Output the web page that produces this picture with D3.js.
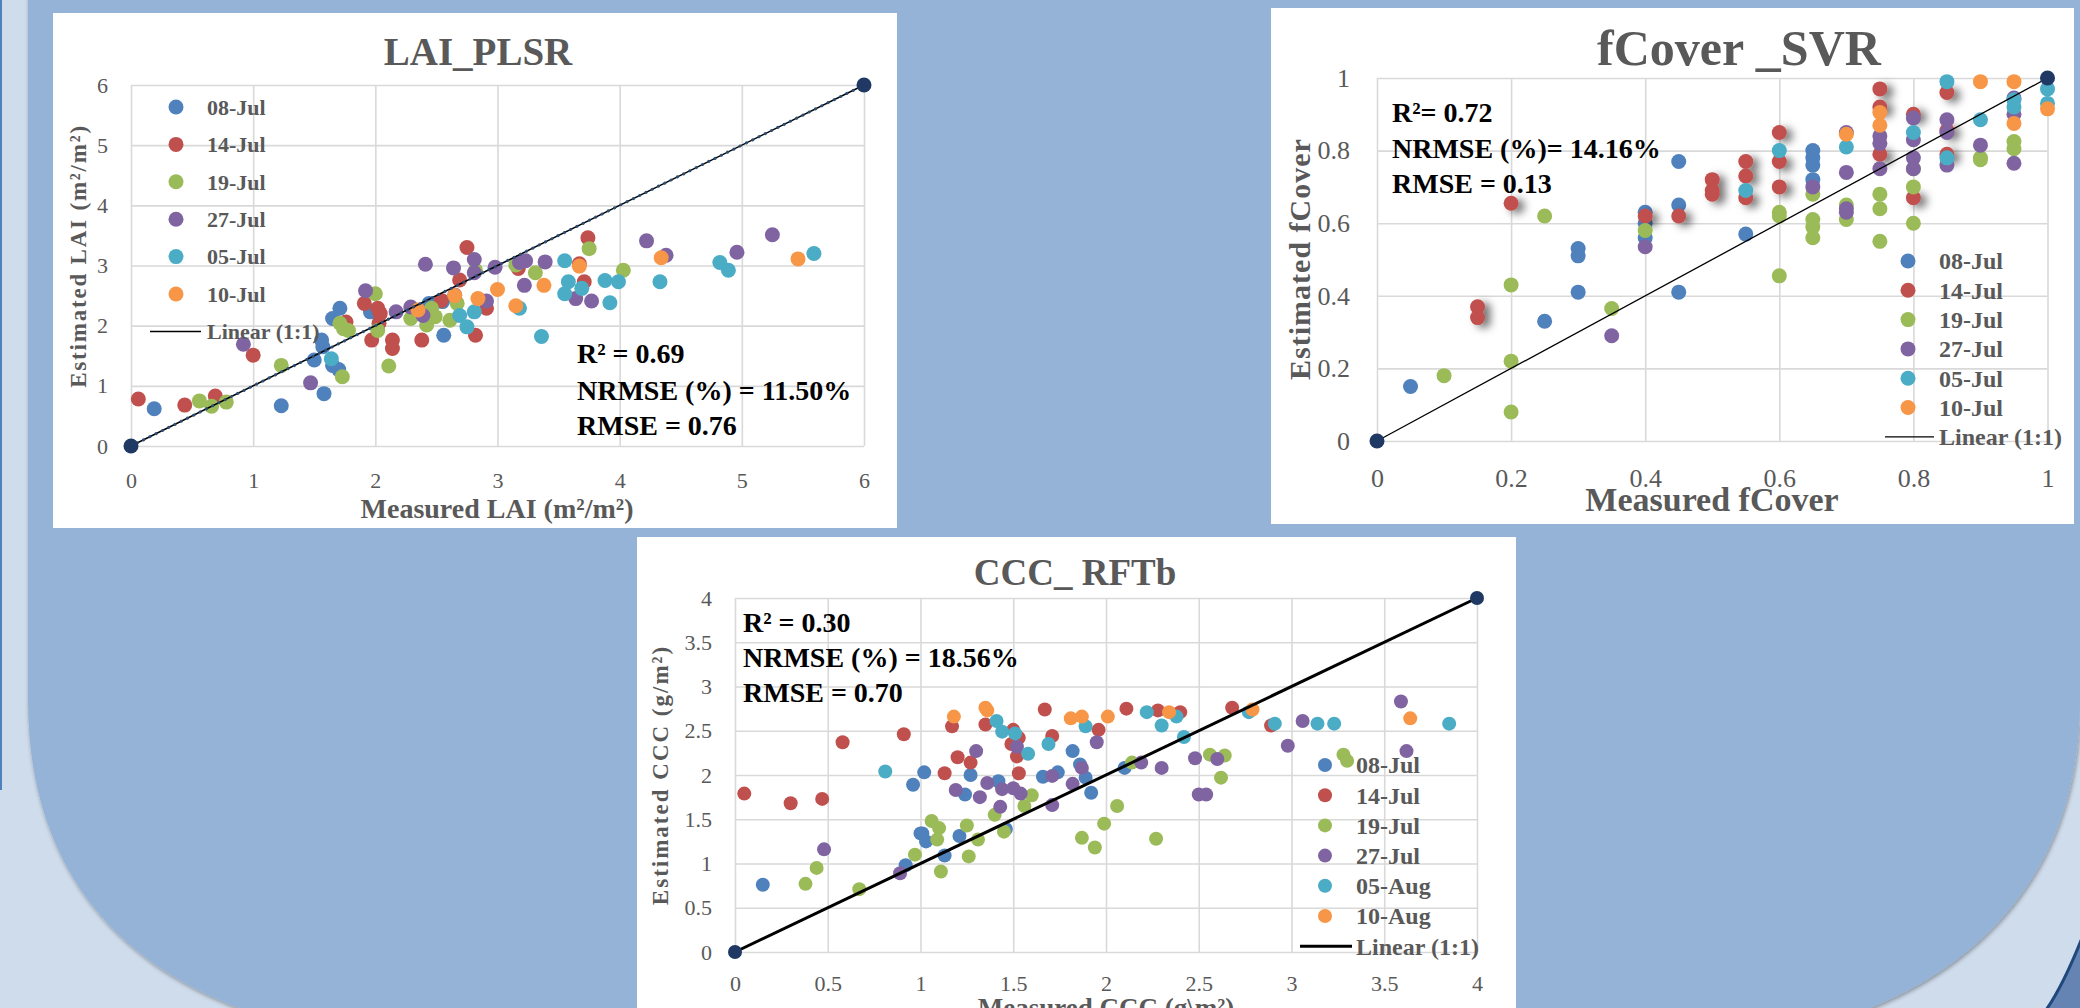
<!DOCTYPE html>
<html>
<head>
<meta charset="utf-8">
<script src="https://cdn.jsdelivr.net/npm/d3@7"></script>
<style>
  body { margin: 0; overflow: hidden; background: #95b3d7; }
  svg { display: block; }
  text { font-family: "Liberation Serif", "DejaVu Serif", serif; }
</style>
</head>
<body>
<div id="chart"></div>
<script>
// ---------- data ----------
const colors = ["#4f81bd", "#c0504d", "#9bbb59", "#8064a2", "#4bacc6", "#f79646"];

// LAI_PLSR  [measured, estimated]
const laiDates = ["08-Jul", "14-Jul", "19-Jul", "27-Jul", "05-Jul", "10-Jul"];
const lai08Jul = [[0.19,0.62],[1.23,0.67],[1.58,0.87],[1.50,1.43],[1.56,1.76],[1.57,1.65],[1.65,1.34],[1.70,1.27],[1.65,2.12],[1.71,2.29],[1.96,2.23],[2.56,1.84],[2.44,2.37],[2.55,2.40]];
const lai14Jul = [[0.06,0.78],[0.44,0.68],[0.69,0.83],[1.00,1.51],[1.91,2.37],[1.97,1.76],[2.02,2.29],[2.04,2.20],[2.03,2.04],[2.14,1.76],[2.14,1.62],[2.38,1.76],[2.54,2.42],[2.69,2.76],[2.75,3.30],[2.82,1.84],[2.91,2.29],[3.17,2.95],[3.67,3.03],[3.71,2.73],[3.74,3.46],[1.76,2.06]];
const lai19Jul = [[0.56,0.75],[0.66,0.66],[0.78,0.73],[1.23,1.34],[1.73,1.15],[1.71,2.04],[1.74,1.95],[1.78,1.92],[2.00,2.53],[2.02,1.92],[2.11,1.33],[2.29,2.12],[2.42,2.01],[2.46,2.29],[2.61,2.09],[2.67,2.37],[2.82,2.92],[3.15,3.01],[3.31,2.88],[3.75,3.28],[4.03,2.92],[2.49,2.15]];
const lai27Jul = [[0.92,1.69],[1.47,1.05],[1.92,2.58],[2.17,2.23],[2.29,2.31],[2.39,2.17],[2.41,3.02],[2.64,2.96],[2.65,2.51],[2.81,3.10],[2.81,2.88],[2.91,2.41],[2.98,2.97],[3.18,3.05],[3.23,3.08],[3.22,2.67],[3.39,3.06],[3.64,2.45],[3.77,2.41],[4.22,3.41],[4.38,3.17],[4.96,3.22],[5.25,3.51]];
const lai05Jul = [[1.64,1.45],[2.69,2.17],[2.75,1.98],[2.81,2.23],[3.18,2.29],[3.36,1.82],[3.55,3.08],[3.55,2.53],[3.58,2.73],[3.69,2.62],[3.88,2.75],[3.92,2.38],[3.99,2.73],[4.33,2.73],[4.82,3.05],[4.89,2.92],[5.59,3.20]];
const lai10Jul = [[2.35,2.26],[2.65,2.50],[2.84,2.45],[3.00,2.60],[3.15,2.33],[3.38,2.67],[3.67,2.99],[4.34,3.13],[5.46,3.11]];
const laiTicks = [0, 1, 2, 3, 4, 5, 6];
const laiStats = ["R² = 0.69", "NRMSE (%) = 11.50%", "RMSE = 0.76"];

// fCover_SVR
const fcDates = ["08-Jul", "14-Jul", "19-Jul", "27-Jul", "05-Jul", "10-Jul"];
const fc08Jul = [[0.05,0.15],[0.25,0.33],[0.30,0.53],[0.30,0.51],[0.30,0.41],[0.40,0.63],[0.40,0.60],[0.40,0.56],[0.45,0.77],[0.45,0.65],[0.45,0.41],[0.55,0.57],[0.65,0.80],[0.65,0.78],[0.65,0.76],[0.65,0.72]];
const fc14Jul = [[0.15,0.37],[0.15,0.34],[0.20,0.655],[0.40,0.62],[0.45,0.62],[0.50,0.72],[0.50,0.69],[0.50,0.68],[0.55,0.77],[0.55,0.73],[0.55,0.67],[0.60,0.85],[0.60,0.77],[0.60,0.70],[0.75,0.97],[0.75,0.92],[0.75,0.79],[0.80,0.90],[0.80,0.67],[0.85,0.96],[0.85,0.855],[0.85,0.79]];
const fc19Jul = [[0.10,0.18],[0.20,0.43],[0.20,0.22],[0.20,0.08],[0.25,0.62],[0.35,0.365],[0.40,0.58],[0.60,0.63],[0.60,0.62],[0.60,0.455],[0.65,0.68],[0.65,0.61],[0.65,0.59],[0.65,0.56],[0.70,0.65],[0.70,0.61],[0.75,0.68],[0.75,0.64],[0.75,0.55],[0.80,0.75],[0.80,0.70],[0.80,0.60],[0.90,0.78],[0.90,0.775],[0.95,0.825],[0.95,0.805]];
const fc27Jul = [[0.35,0.29],[0.40,0.535],[0.65,0.70],[0.70,0.74],[0.70,0.64],[0.70,0.63],[0.70,0.85],[0.75,0.84],[0.75,0.82],[0.75,0.75],[0.80,0.89],[0.80,0.83],[0.80,0.78],[0.80,0.75],[0.85,0.885],[0.85,0.85],[0.85,0.76],[0.90,0.815],[0.95,0.945],[0.95,0.90],[0.95,0.765]];
const fc05Jul = [[0.55,0.69],[0.60,0.80],[0.70,0.81],[0.80,0.85],[0.85,0.99],[0.85,0.78],[0.90,0.885],[0.95,0.94],[0.95,0.92],[1.00,0.97],[1.00,0.93]];
const fc10Jul = [[0.70,0.845],[0.75,0.905],[0.75,0.87],[0.90,0.99],[0.95,0.99],[0.95,0.875],[1.00,0.915]];
const fcTicks = [0, 0.2, 0.4, 0.6, 0.8, 1];
const fcStats = ["R²= 0.72", "NRMSE (%)= 14.16%", "RMSE = 0.13"];

// CCC_RFTb
const cccDates = ["08-Jul", "14-Jul", "19-Jul", "27-Jul", "05-Aug", "10-Aug"];
const ccc08Jul = [[0.15,0.76],[0.92,0.98],[0.96,1.89],[1.02,2.03],[1.00,1.34],[1.01,1.34],[1.03,1.25],[1.13,1.09],[1.21,1.31],[1.24,1.78],[1.27,2.00],[1.42,1.93],[1.46,1.39],[1.66,1.98],[1.74,2.03],[1.82,2.27],[1.86,2.12],[1.89,1.97],[1.92,1.80],[2.10,2.08]];
const ccc14Jul = [[0.05,1.79],[0.30,1.68],[0.47,1.73],[0.58,2.37],[0.91,2.46],[1.13,2.02],[1.17,2.55],[1.20,2.20],[1.27,2.14],[1.35,2.57],[1.50,2.51],[1.49,2.35],[1.52,2.21],[1.53,2.42],[1.53,2.02],[1.67,2.74],[1.71,2.44],[1.96,2.51],[2.11,2.75],[2.28,2.73],[2.40,2.71],[2.68,2.76],[2.89,2.56]];
const ccc19Jul = [[0.38,0.77],[0.44,0.95],[0.67,0.71],[0.97,1.10],[1.06,1.48],[1.10,1.40],[1.09,1.27],[1.11,0.91],[1.25,1.43],[1.26,1.08],[1.31,1.27],[1.40,1.55],[1.45,1.36],[1.56,1.65],[1.60,1.77],[1.87,1.29],[1.94,1.18],[1.99,1.45],[2.06,1.65],[2.14,2.14],[2.27,1.28],[2.56,2.23],[2.64,2.22],[2.62,1.97],[3.28,2.23],[3.30,2.16]];
const ccc27Jul = [[0.48,1.16],[0.89,0.89],[1.19,1.83],[1.30,2.27],[1.32,1.75],[1.36,1.91],[1.43,1.64],[1.44,1.84],[1.50,1.85],[1.54,1.79],[1.52,2.32],[1.71,1.99],[1.71,1.66],[1.82,1.90],[1.87,2.08],[1.95,2.37],[2.19,2.14],[2.30,2.08],[2.48,2.19],[2.50,1.78],[2.54,1.78],[2.60,2.18],[2.98,2.33],[3.06,2.61],[3.59,2.83],[3.62,2.27]];
const ccc05Aug = [[0.81,2.04],[1.41,2.61],[1.44,2.49],[1.51,2.47],[1.58,2.24],[1.69,2.35],[1.89,2.55],[2.22,2.71],[2.30,2.56],[2.38,2.66],[2.42,2.43],[2.77,2.71],[2.91,2.58],[3.14,2.58],[3.23,2.58],[3.85,2.58]];
const ccc10Aug = [[1.18,2.66],[1.35,2.76],[1.36,2.73],[1.81,2.64],[1.87,2.66],[2.01,2.66],[2.34,2.71],[2.79,2.74],[3.64,2.64]];
const cccTicks = [0, 0.5, 1, 1.5, 2, 2.5, 3, 3.5, 4];
const cccStats = ["R² = 0.30", "NRMSE (%) = 18.56%", "RMSE = 0.70"];

// ---------- page ----------
const W = 2080, H = 1008;
const grey = "#595959";
const svg = d3.select("#chart").append("svg").attr("width", W).attr("height", H);
const defs = svg.append("defs");
defs.append("filter").attr("id", "edge").attr("x", "-10%").attr("y", "-10%").attr("width", "120%").attr("height", "120%")
  .append("feDropShadow").attr("dx", 1).attr("dy", 2).attr("stdDeviation", 2)
  .attr("flood-color", "#000").attr("flood-opacity", 0.35);
defs.append("filter").attr("id", "blob").attr("x", "-100%").attr("y", "-100%").attr("width", "300%").attr("height", "300%")
  .append("feDropShadow").attr("dx", 6).attr("dy", 3).attr("stdDeviation", 4)
  .attr("flood-color", "#000").attr("flood-opacity", 0.55);

// background template shapes
svg.append("rect").attr("width", W).attr("height", H).attr("fill", "#cfdcec");
svg.append("rect").attr("x", 0).attr("y", 0).attr("width", 2).attr("height", 790).attr("fill", "#4f81bd");
svg.append("path")
  .attr("d", "M28,-20 L2100,-20 L2100,690 L2080,700 C2080,860 1990,960 1870,1008 L240,1008 C110,960 28,860 28,700 Z")
  .attr("fill", "#95b3d7").attr("filter", "url(#edge)");
svg.append("path")
  .attr("d", "M2082,938 C2070,968 2060,990 2046,1010 L2082,1010 Z")
  .attr("fill", "#6584b4").attr("stroke", "#1f497d").attr("stroke-width", 3);

function drawPanel(p) {
  const g = svg.append("g");
  g.append("rect").attr("x", p.box[0]).attr("y", p.box[1])
    .attr("width", p.box[2]).attr("height", p.box[3]).attr("fill", "#fff");

  const x = d3.scaleLinear().domain([0, p.max]).range([p.left, p.right]);
  const y = d3.scaleLinear().domain([0, p.max]).range([p.bottom, p.top]);
  const fmt = (d) => String(d);

  const xAxis = g.append("g").attr("transform", `translate(0,${p.bottom})`)
    .call(d3.axisBottom(x).tickValues(p.ticks).tickFormat(fmt)
      .tickSize(-(p.bottom - p.top)).tickPadding(p.xPad));
  const yAxis = g.append("g").attr("transform", `translate(${p.left},0)`)
    .call(d3.axisLeft(y).tickValues(p.ticks).tickFormat(fmt)
      .tickSize(-(p.right - p.left)).tickPadding(p.yPad));
  [xAxis, yAxis].forEach((a) => {
    a.select(".domain").remove();
    a.selectAll("line").attr("stroke", "#d9d9d9").attr("stroke-width", 1.6);
    a.selectAll("text").attr("fill", grey).attr("font-size", p.tickFs)
      .style("font-family", '"Liberation Serif", serif');
  });

  // series
  p.series.forEach((s, i) => {
    g.append("g").attr("fill", colors[i])
      .attr("filter", p.shadow && p.shadow.includes(i) ? "url(#blob)" : null)
      .selectAll("circle").data(s).join("circle")
      .attr("cx", (d) => x(d[0])).attr("cy", (d) => y(d[1])).attr("r", p.r);
  });

  // 1:1 line
  g.append("line").attr("x1", x(0)).attr("y1", y(0)).attr("x2", x(p.max)).attr("y2", y(p.max))
    .attr("stroke", "#000").attr("stroke-width", p.lineW);
  if (p.dotted) {
    g.append("line").attr("x1", x(0)).attr("y1", y(0)).attr("x2", x(p.max)).attr("y2", y(p.max))
      .attr("stroke", "#2c4d75").attr("stroke-width", 3).attr("stroke-linecap", "round")
      .attr("stroke-dasharray", "0.1,6.9");
  }
  g.selectAll(".endp").data([0, p.max]).join("circle")
    .attr("cx", (d) => x(d)).attr("cy", (d) => y(d)).attr("r", p.r).attr("fill", "#1f3864");

  // titles
  g.append("text").attr("x", p.title.x).attr("y", p.title.y).attr("text-anchor", "middle")
    .attr("font-size", p.title.fs).attr("font-weight", "bold").attr("fill", grey).text(p.title.text);
  g.append("text").attr("x", p.xTitle.x).attr("y", p.xTitle.y).attr("text-anchor", "middle")
    .attr("font-size", p.xTitle.fs).attr("font-weight", "bold").attr("fill", grey).text(p.xTitle.text);
  g.append("text").attr("transform", `translate(${p.yTitle.x},${p.yTitle.y}) rotate(-90)`)
    .attr("text-anchor", "middle").attr("dy", "0.35em")
    .attr("font-size", p.yTitle.fs).attr("font-weight", "bold").attr("fill", grey)
    .attr("letter-spacing", p.yTitle.ls).text(p.yTitle.text);

  // stats
  g.selectAll(".stat").data(p.stats.text).join("text")
    .attr("x", p.stats.x).attr("y", (d, i) => p.stats.y[i])
    .attr("font-size", p.stats.fs).attr("font-weight", "bold").attr("fill", "#000").text((d) => d);

  // legend
  const L = p.legend;
  const rows = g.selectAll(".leg").data(p.names).join("g")
    .attr("transform", (d, i) => `translate(0,${L.y0 + i * L.step})`);
  rows.append("circle").attr("cx", L.mx).attr("r", p.r).attr("fill", (d, i) => colors[i]);
  rows.append("text").attr("x", L.tx).attr("dy", "0.35em").attr("font-size", L.fs)
    .attr("font-weight", "bold").attr("fill", grey).text((d) => d);
  const ly = L.y0 + p.names.length * L.step;
  g.append("line").attr("x1", L.l1).attr("x2", L.l2).attr("y1", ly).attr("y2", ly)
    .attr("stroke", "#000").attr("stroke-width", p.lineW);
  g.append("text").attr("x", L.tx).attr("y", ly).attr("dy", "0.35em").attr("font-size", L.fs)
    .attr("font-weight", "bold").attr("fill", grey).text("Linear (1:1)");
}

drawPanel({
  box: [53, 13, 844, 515], left: 131, right: 864, top: 85, bottom: 446, max: 6,
  ticks: laiTicks, tickFs: 22, xPad: 26, yPad: 23, r: 7.5, lineW: 1.5, dotted: true,
  series: [lai08Jul, lai14Jul, lai19Jul, lai27Jul, lai05Jul, lai10Jul], names: laiDates,
  title: { text: "LAI_PLSR", x: 478, y: 65, fs: 39 },
  xTitle: { text: "Measured LAI (m²/m²)", x: 497, y: 518, fs: 28 },
  yTitle: { text: "Estimated LAI (m²/m²)", x: 78, y: 256, fs: 23, ls: 1.8 },
  stats: { text: laiStats, x: 577, y: [363, 400, 435], fs: 28 },
  legend: { mx: 176, tx: 207, y0: 107, step: 37.4, l1: 150, l2: 201, fs: 22 },
});

drawPanel({
  box: [1271, 8, 803, 516], left: 1377, right: 2047.5, top: 78, bottom: 441, max: 1,
  ticks: fcTicks, tickFs: 26, xPad: 28, yPad: 27, r: 7.5, lineW: 1.3, shadow: [1],
  series: [fc08Jul, fc14Jul, fc19Jul, fc27Jul, fc05Jul, fc10Jul], names: fcDates,
  title: { text: "fCover _SVR", x: 1739, y: 65, fs: 50 },
  xTitle: { text: "Measured fCover", x: 1712, y: 511, fs: 34 },
  yTitle: { text: "Estimated fCover", x: 1299, y: 259, fs: 30, ls: 1 },
  stats: { text: fcStats, x: 1392, y: [122, 158, 193], fs: 28 },
  legend: { mx: 1908, tx: 1939, y0: 261, step: 29.3, l1: 1885, l2: 1934, fs: 24 },
});

drawPanel({
  box: [637, 537, 879, 480], left: 735, right: 1477, top: 598, bottom: 952, max: 4,
  ticks: cccTicks, tickFs: 22, xPad: 23, yPad: 23, r: 7, lineW: 3,
  series: [ccc08Jul, ccc14Jul, ccc19Jul, ccc27Jul, ccc05Aug, ccc10Aug], names: cccDates,
  title: { text: "CCC_ RFTb", x: 1075, y: 585, fs: 37 },
  xTitle: { text: "Measured CCC (g\\m²)", x: 1106, y: 1017, fs: 27 },
  yTitle: { text: "Estimated CCC (g/m²)", x: 660, y: 775, fs: 23, ls: 2 },
  stats: { text: cccStats, x: 743, y: [632, 667, 702], fs: 28 },
  legend: { mx: 1325, tx: 1356, y0: 765, step: 30.2, l1: 1300, l2: 1352, fs: 24 },
});
</script>
</body>
</html>
